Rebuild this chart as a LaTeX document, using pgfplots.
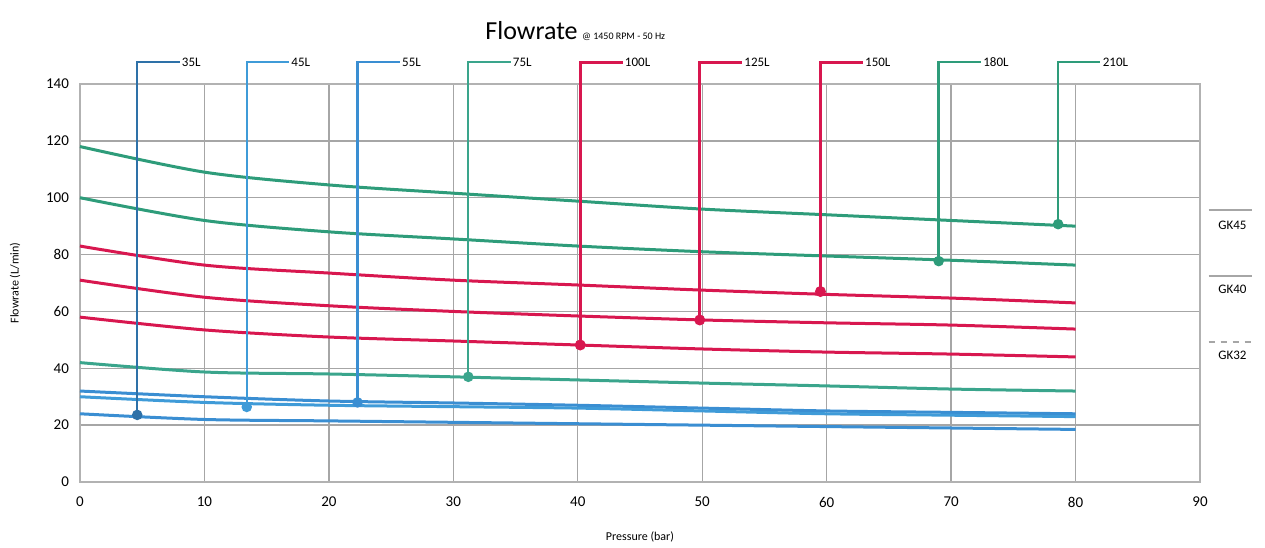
\documentclass[border=0pt]{standalone}
\usepackage{fontspec}
\setmainfont{Carlito}
\usepackage{pgfplots}
\pgfplotsset{compat=1.18}
\usetikzlibrary{calc}
\definecolor{cgreen}{HTML}{2E9C7A}
\definecolor{cteal}{HTML}{3AA58C}
\definecolor{cred}{HTML}{D8174F}
\definecolor{cblue}{HTML}{3A8ED2}
\definecolor{cblueb}{HTML}{3F9BD8}
\begin{document}
\begin{tikzpicture}
\begin{axis}[
  width=560pt, height=199pt, scale only axis,
  xmin=0, xmax=90, ymin=0, ymax=140,
  xtick={0,10,...,90}, ytick={0,20,...,140},
  grid=major, grid style={gray!70, line width=0.7pt},
  axis line style={gray!60, line width=0.7pt},
  major tick length=0pt,
  /pgf/number format/assume math mode=true,
  ticklabel style={font=\fontsize{7.5}{8}\selectfont},
  xticklabel style={yshift=-4pt},
  yticklabel style={xshift=-2pt},
  xlabel={Pressure (bar)}, ylabel={Flowrate (L/min)},
  xlabel style={font=\fontsize{6}{7}\selectfont, at={(axis description cs:0.5,-0.138)}, anchor=center},
  ylabel style={font=\fontsize{6}{7}\selectfont, at={(axis description cs:-0.058,0.5)}, anchor=center},
  clip=false,
]
% GK45 curves
\addplot[cgreen, line width=1.5pt, smooth] coordinates {(0,118) (10,109) (20,104.5) (30,101.6) (40,98.8) (50,96) (60,94) (70,92) (80,90)};
\addplot[cgreen, line width=1.5pt, smooth] coordinates {(0,100) (10,92) (20,88) (30,85.5) (40,83) (50,81) (60,79.5) (70,78) (80,76.3)};
% GK40 curves
\addplot[cred, line width=1.5pt, smooth] coordinates {(0,83) (10,76.3) (20,73.5) (30,71) (40,69.3) (50,67.5) (60,66) (70,64.7) (80,63)};
\addplot[cred, line width=1.5pt, smooth] coordinates {(0,71) (10,65) (20,62) (30,60) (40,58.4) (50,57) (60,56) (70,55.2) (80,53.8)};
\addplot[cred, line width=1.5pt, smooth] coordinates {(0,58) (10,53.5) (20,51) (30,49.6) (40,48.2) (50,46.8) (60,45.7) (70,45) (80,44)};
% GK32 curves
\addplot[cteal, line width=1.5pt, smooth] coordinates {(0,42) (10,38.7) (20,38) (30,37) (40,35.9) (50,34.8) (60,33.8) (70,32.7) (80,32)};
\addplot[cblue, line width=1.5pt, smooth] coordinates {(0,32) (10,30) (20,28.5) (30,27.8) (40,27) (50,26) (60,25) (70,24.5) (80,24)};
\addplot[cblueb, line width=1.5pt, smooth] coordinates {(0,30) (10,28) (20,27) (30,26.5) (40,26) (50,25) (60,24) (70,23.5) (80,23)};
\addplot[cblue, line width=1.5pt, smooth] coordinates {(0,24) (10,22) (20,21.5) (30,21) (40,20.5) (50,20) (60,19.5) (70,19) (80,18.5)};
% size markers
\addplot[cblue!80!black, line width=1.2pt, mark=*, mark indices={1}, mark size=2pt] coordinates {(4.6,23.6) (4.6,147.7) (8.0,147.7)};
\addplot[cblueb, line width=1.2pt, mark=*, mark indices={1}, mark size=2pt] coordinates {(13.4,26.4) (13.4,147.7) (16.8,147.7)};
\addplot[cblue, line width=1.2pt, mark=*, mark indices={1}, mark size=2pt] coordinates {(22.3,28) (22.3,147.7) (25.7,147.7)};
\addplot[cteal, line width=1.2pt, mark=*, mark indices={1}, mark size=2pt] coordinates {(31.2,37) (31.2,147.7) (34.6,147.7)};
\addplot[cred, line width=1.4pt, mark=*, mark indices={1}, mark size=2pt] coordinates {(40.2,48.2) (40.2,147.7) (43.6,147.7)};
\addplot[cred, line width=1.4pt, mark=*, mark indices={1}, mark size=2pt] coordinates {(49.8,57) (49.8,147.7) (53.2,147.7)};
\addplot[cred, line width=1.4pt, mark=*, mark indices={1}, mark size=2pt] coordinates {(59.5,67) (59.5,147.7) (62.9,147.7)};
\addplot[cgreen, line width=1.2pt, mark=*, mark indices={1}, mark size=2pt] coordinates {(69.0,77.7) (69.0,147.7) (72.4,147.7)};
\addplot[cgreen, line width=1.2pt, mark=*, mark indices={1}, mark size=2pt] coordinates {(78.6,90.7) (78.6,147.7) (82.0,147.7)};
\begin{scope}[every node/.style={font=\fontsize{6.5}{7}\selectfont, anchor=west, inner sep=1pt}]
\node at (axis cs:8.0,147.7) {35L};
\node at (axis cs:16.8,147.7) {45L};
\node at (axis cs:25.7,147.7) {55L};
\node at (axis cs:34.6,147.7) {75L};
\node at (axis cs:43.6,147.7) {100L};
\node at (axis cs:53.2,147.7) {125L};
\node at (axis cs:62.9,147.7) {150L};
\node at (axis cs:72.4,147.7) {180L};
\node at (axis cs:82.0,147.7) {210L};
\end{scope}
% right-side labels
\draw[gray!70, line width=0.8pt] (axis cs:90.7,95.7) -- (axis cs:94.2,95.7);
\node[font=\fontsize{6.5}{7}\selectfont] at (axis cs:92.6,90.4) {GK45};
\draw[gray!70, line width=0.8pt] (axis cs:90.7,72.5) -- (axis cs:94.2,72.5);
\node[font=\fontsize{6.5}{7}\selectfont] at (axis cs:92.6,67.9) {GK40};
\draw[gray!70, line width=0.8pt, dashed] (axis cs:90.7,49.2) -- (axis cs:94.2,49.2);
\node[font=\fontsize{6.5}{7}\selectfont] at (axis cs:92.6,44.4) {GK32};
% title
\node[anchor=base] at (axis cs:39.8,155.5) {{\fontsize{13}{14}\selectfont Flowrate} {\fontsize{5}{6}\selectfont @ 1450 RPM - 50 Hz}};
\end{axis}
\pgfresetboundingbox
\path[use as bounding box] ($(current axis.south west)+(-40pt,-32.5pt)$) rectangle ($(current axis.north east)+(32.5pt,42pt)$);
\end{tikzpicture}
\end{document}
